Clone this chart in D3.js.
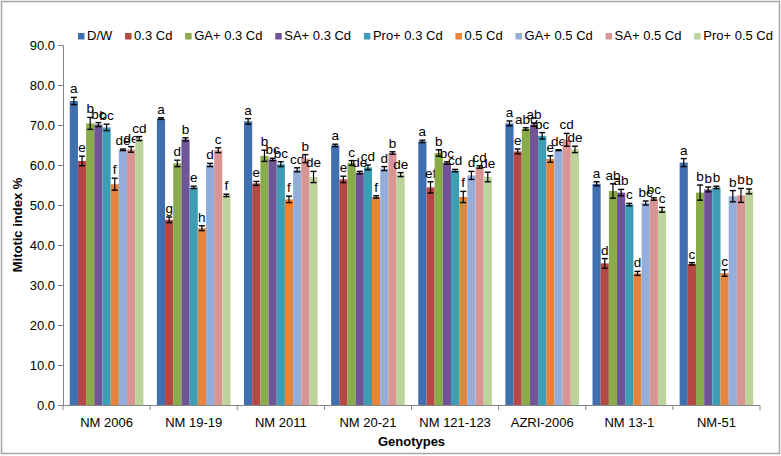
<!DOCTYPE html>
<html><head><meta charset="utf-8">
<script src="https://cdn.jsdelivr.net/npm/d3@7"></script>
<style>body{margin:0;background:#fff}svg{display:block;font-family:"Liberation Sans",Arial,sans-serif}</style>
</head><body><svg id="c" width="781" height="456"></svg>
<script>
const genotypes = ["NM 2006","NM 19-19","NM 2011","NM 20-21","NM 121-123","AZRI-2006","NM 13-1","NM-51"];
const seriesNames = ["D/W","0.3 Cd","GA+ 0.3 Cd","SA+ 0.3 Cd","Pro+ 0.3 Cd","0.5 Cd","GA+ 0.5 Cd","SA+ 0.5 Cd","Pro+ 0.5 Cd"];
const colors = ["#3f6fae","#b54745","#8aab4a","#6f5597","#3d9db4","#e5843a","#94aedb","#d99594","#bcd49b"];
const yTicks = [0,10,20,30,40,50,60,70,80,90];
// values[series][genotype]
const values = [
  [76.0,71.6,70.9,64.9,65.9,70.4,55.3,60.6],
  [61.0,46.3,55.4,56.4,54.4,63.4,35.4,35.3],
  [70.4,60.4,62.3,60.5,63.0,69.0,53.5,53.1],
  [70.1,66.4,61.4,58.1,60.5,70.1,53.1,53.9],
  [69.4,54.4,60.2,59.4,58.6,67.3,50.1,54.4],
  [55.2,44.2,51.4,52.0,52.0,61.5,32.9,33.0],
  [63.8,60.0,58.8,59.1,57.4,63.7,50.5,52.2],
  [63.9,63.7,61.6,63.0,59.5,66.3,51.5,52.4],
  [66.6,52.4,57.0,57.6,57.0,63.9,48.8,53.4]
];
const errors = [
  [0.9,0.2,0.7,0.3,0.3,0.6,0.5,1.0],
  [1.2,0.7,0.5,0.8,1.4,0.6,1.2,0.3],
  [1.5,0.8,1.4,0.6,0.8,0.3,1.8,1.9],
  [0.5,0.4,0.3,0.3,0.3,0.4,0.8,0.6],
  [0.8,0.3,0.6,0.6,0.3,0.8,0.3,0.3],
  [1.5,0.6,0.8,0.3,1.4,0.8,0.5,0.8],
  [0.2,0.4,0.5,0.5,1.0,0.1,0.5,1.4],
  [0.7,0.6,1.0,0.3,0.3,1.6,0.3,1.75],
  [0.5,0.3,1.4,0.5,1.2,0.8,0.6,0.6]
];
const letters = [
  ["a","a","a","a","a","a","a","a"],
  ["e","g","e","e","ef","e","d","c"],
  ["b","d","b","c","b","abc","ab","b"],
  ["bc","b","bc","de","bc","ab","ab","b"],
  ["bc","e","bc","cd","cd","bc","c","b"],
  ["f","h","f","f","f","e","d","c"],
  ["de","d","cd","d","d","de","bc","b"],
  ["de","c","b","b","cd","cd","bc","b"],
  ["cd","f","de","de","de","de","c","b"]
];

const svg = d3.select("#c");
const L = 63, R = 760, T = 45, B = 405;
svg.append("rect").attr("x",1.5).attr("y",1.5).attr("width",778).attr("height",452)
  .attr("fill","#fff").attr("stroke","#a6a6a6").attr("stroke-width",1.5);

const y = d3.scaleLinear().domain([0,90]).range([B,T]);
const x0 = d3.scaleBand().domain(genotypes).range([L,R]).paddingInner(0.155).paddingOuter(0.0775);
const x1 = d3.scaleBand().domain(seriesNames).range([0,x0.bandwidth()]);

// axes
const yAxis = svg.append("g").attr("transform",`translate(${L},0)`)
  .call(d3.axisLeft(y).tickValues(yTicks).tickSize(5).tickPadding(3).tickFormat(d3.format(".1f")));
yAxis.selectAll("text").attr("font-size",13).attr("fill","#000").attr("font-family","Liberation Sans, Arial, sans-serif");
yAxis.selectAll("line,path").attr("stroke","#868686");

const xAxis = svg.append("g").attr("transform",`translate(0,${B})`)
  .call(d3.axisBottom(x0).tickSize(0).tickPadding(13));
xAxis.selectAll("text").attr("font-size",13).attr("fill","#000").attr("font-family","Liberation Sans, Arial, sans-serif");
xAxis.select("path").attr("stroke","#868686").attr("d",`M${L},0.5H${R}`);
// tick marks between categories
const step = x0.step();
xAxis.selectAll(".sep").data(d3.range(genotypes.length+1)).join("line")
  .attr("x1",i=>L+i*step).attr("x2",i=>L+i*step).attr("y1",0).attr("y2",5).attr("stroke","#868686");

// bars
const g = svg.append("g");
seriesNames.forEach((s,si)=>{
  genotypes.forEach((gn,gi)=>{
    const v = values[si][gi], e = errors[si][gi];
    const bx = x0(gn)+x1(s), bw = x1.bandwidth();
    g.append("rect").attr("x",bx).attr("y",y(v)).attr("width",bw).attr("height",B-y(v)).attr("fill",colors[si]);
    const cx = bx+bw/2;
    g.append("line").attr("x1",cx).attr("x2",cx).attr("y1",y(v+e)).attr("y2",y(v-e)).attr("stroke","#000").attr("stroke-width",1.2);
    [v+e,v-e].forEach(t=>g.append("line").attr("x1",cx-3).attr("x2",cx+3).attr("y1",y(t)).attr("y2",y(t)).attr("stroke","#000").attr("stroke-width",1.4));
    g.append("text").attr("x",cx).attr("y",y(v+e)-4).attr("text-anchor","middle")
      .attr("font-size",13.5).attr("fill","#000").text(letters[si][gi]);
  });
});

// axis titles
svg.append("text").attr("x",(L+R)/2).attr("y",446).attr("text-anchor","middle")
  .attr("font-size",13).attr("font-weight","bold").text("Genotypes");
svg.append("text").attr("transform",`translate(22,${(T+B)/2}) rotate(-90)`).attr("text-anchor","middle")
  .attr("font-size",13).attr("font-weight","bold").text("Mitotic index %");

// legend
const lg = svg.append("g");
const items = [];
seriesNames.forEach((s,i)=>{
  const it = lg.append("g");
  it.append("rect").attr("x",0).attr("y",-7).attr("width",6.5).attr("height",6.5).attr("fill",colors[i]);
  const t = it.append("text").attr("x",9).attr("y",0).attr("font-size",13).text(s);
  items.push({it, w: 9 + t.node().getComputedTextLength()});
});
const totalW = d3.sum(items, d=>d.w);
const startX = 78, endX = 773;
const gap = (endX - startX - totalW)/(items.length-1);
let cx = startX;
items.forEach(d=>{ d.it.attr("transform",`translate(${cx},40)`); cx += d.w + gap; });
</script></body></html>
